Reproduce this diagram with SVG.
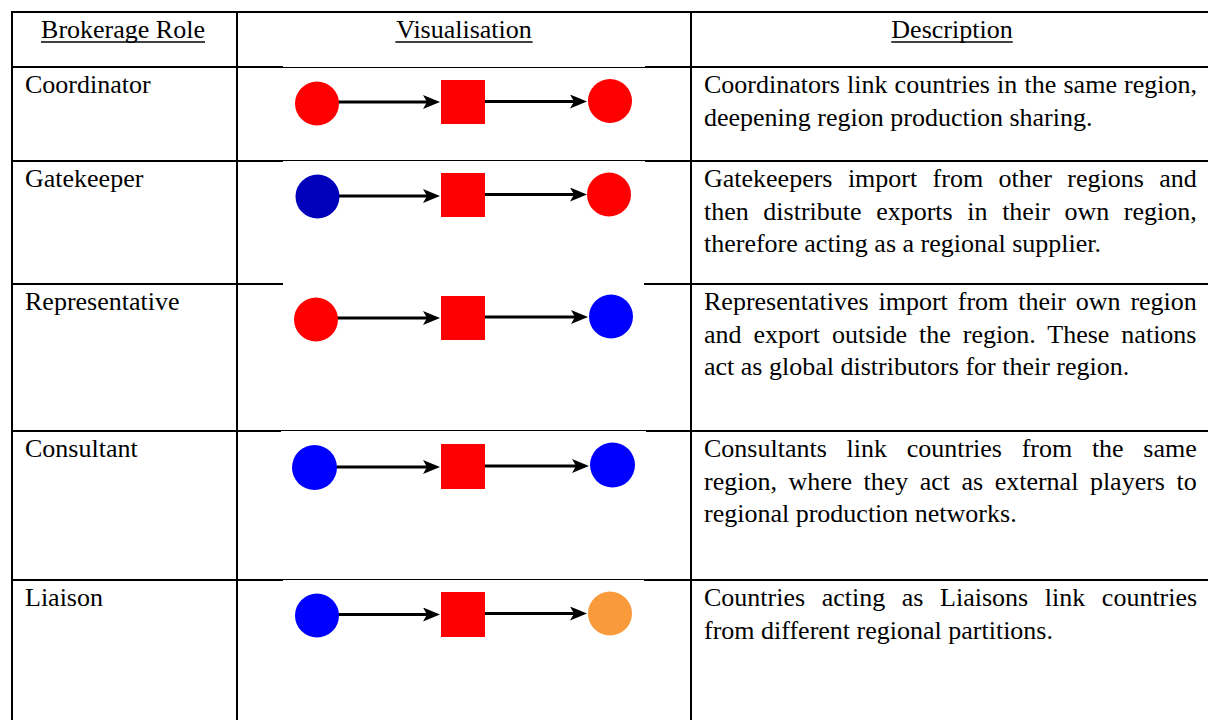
<svg xmlns="http://www.w3.org/2000/svg" width="1208" height="720" viewBox="0 0 1208 720">
<style>
.t{font-family:"Liberation Serif","Times New Roman",serif;font-size:26px;fill:#000}
.h{text-anchor:middle}
.b{stroke:#000;stroke-width:2;fill:none}
.thin{stroke:#000;stroke-width:1;fill:none}
.ul{stroke:#000;stroke-width:1.3}
.red{fill:#ff0000}
.blue{fill:#0000ff}
.dblue{fill:#0000bb}
.orange{fill:#f99b3b}
.arr{stroke:#000;stroke-width:3;fill:none;marker-end:url(#ah)}
</style>
<defs>
<marker id="ah" markerUnits="userSpaceOnUse" markerWidth="18" markerHeight="16" refX="7" refY="7" orient="auto">
<path d="M0,0 L17,7 L0,14 L4,7 Z" fill="#000"/>
</marker>
</defs>
<rect width="1208" height="720" fill="#fff"/>
<g id="table">
<line class="b" x1="12" y1="12" x2="1208" y2="12"/>
<line class="b" x1="12" y1="11" x2="12" y2="720"/>
<line class="b" x1="237" y1="11" x2="237" y2="720"/>
<line class="b" x1="691" y1="11" x2="691" y2="720"/>
<line class="b" x1="11" y1="67" x2="283" y2="67"/><line class="thin" x1="283" y1="67.5" x2="645" y2="67.5"/><line class="b" x1="645" y1="67" x2="1208" y2="67"/>
<line class="b" x1="11" y1="161" x2="283" y2="161"/><line class="thin" x1="283" y1="160.5" x2="645" y2="160.5"/><line class="b" x1="645" y1="161" x2="1208" y2="161"/>
<line class="b" x1="11" y1="284" x2="283" y2="284"/><line class="b" x1="644" y1="284" x2="1208" y2="284"/>
<line class="b" x1="11" y1="431" x2="281" y2="431"/><line class="thin" x1="281" y1="430.5" x2="646" y2="430.5"/><line class="b" x1="646" y1="431" x2="1208" y2="431"/>
<line class="b" x1="11" y1="580" x2="283" y2="580"/><line class="thin" x1="283" y1="579.5" x2="644" y2="579.5"/><line class="b" x1="644" y1="580" x2="1208" y2="580"/>
</g>
<g id="header">
<text class="t h" x="123" y="38">Brokerage Role</text>
<line class="ul" x1="41" y1="42" x2="205" y2="42"/>
<text class="t h" x="464" y="38">Visualisation</text>
<line class="ul" x1="395.4" y1="42" x2="532.6" y2="42"/>
<text class="t h" x="952" y="38">Description</text>
<line class="ul" x1="891.3" y1="42" x2="1012.7" y2="42"/>
</g>
<g id="roles">
<text class="t" x="25" y="93">Coordinator</text>
<text class="t" x="25" y="187">Gatekeeper</text>
<text class="t" x="25" y="310">Representative</text>
<text class="t" x="25" y="457">Consultant</text>
<text class="t" x="25" y="606">Liaison</text>
</g>
<g id="descriptions">
<text class="t" x="704" y="93" word-spacing="0.7">Coordinators link countries in the same region,</text>
<text class="t" x="704" y="125.5">deepening region production sharing.</text>
<text class="t" x="704" y="187" word-spacing="8.9">Gatekeepers import from other regions and</text>
<text class="t" x="704" y="219.5" word-spacing="8.1">then distribute exports in their own region,</text>
<text class="t" x="704" y="252">therefore acting as a regional supplier.</text>
<text class="t" x="704" y="310" word-spacing="3.4">Representatives import from their own region</text>
<text class="t" x="704" y="342.5" word-spacing="5.5">and export outside the region. These nations</text>
<text class="t" x="704" y="375">act as global distributors for their region.</text>
<text class="t" x="704" y="457" word-spacing="13.2">Consultants link countries from the same</text>
<text class="t" x="704" y="489.5" word-spacing="5">region, where they act as external players to</text>
<text class="t" x="704" y="522">regional production networks.</text>
<text class="t" x="704" y="606" word-spacing="10.1">Countries acting as Liaisons link countries</text>
<text class="t" x="704" y="638.5">from different regional partitions.</text>
</g>
<g id="connectors">
<line class="arr" x1="338" y1="102" x2="430" y2="102"/>
<line class="arr" x1="485" y1="101.5" x2="577" y2="101.5"/>
<line class="arr" x1="338" y1="196" x2="430" y2="196"/>
<line class="arr" x1="485" y1="194.5" x2="577" y2="194.5"/>
<line class="arr" x1="337" y1="318" x2="430" y2="318"/>
<line class="arr" x1="485" y1="317" x2="578" y2="317"/>
<line class="arr" x1="336" y1="467" x2="430" y2="467"/>
<line class="arr" x1="485" y1="466" x2="579" y2="466"/>
<line class="arr" x1="338" y1="614.5" x2="430" y2="614.5"/>
<line class="arr" x1="485" y1="613.5" x2="577" y2="613.5"/>
</g>
<g id="coordinator-source"><circle class="red" cx="317" cy="103.5" r="22"/></g>
<g id="coordinator-broker"><rect class="red" x="441" y="80" width="44" height="44"/></g>
<g id="coordinator-target"><circle class="red" cx="610" cy="101" r="22"/></g>
<g id="gatekeeper-source"><circle class="dblue" cx="317.5" cy="196.5" r="22"/></g>
<g id="gatekeeper-broker"><rect class="red" x="441" y="173" width="44" height="44"/></g>
<g id="gatekeeper-target"><circle class="red" cx="609" cy="194.5" r="22"/></g>
<g id="representative-source"><circle class="red" cx="316" cy="319.5" r="22"/></g>
<g id="representative-broker"><rect class="red" x="441" y="296" width="44" height="44"/></g>
<g id="representative-target"><circle class="blue" cx="611" cy="316.5" r="22"/></g>
<g id="consultant-source"><circle class="blue" cx="314.5" cy="467.5" r="22.5"/></g>
<g id="consultant-broker"><rect class="red" x="441" y="444" width="44" height="45"/></g>
<g id="consultant-target"><circle class="blue" cx="612.5" cy="465" r="22.5"/></g>
<g id="liaison-source"><circle class="blue" cx="317" cy="615.5" r="22"/></g>
<g id="liaison-broker"><rect class="red" x="441" y="592" width="44" height="45"/></g>
<g id="liaison-target"><circle class="orange" cx="610" cy="613.5" r="22"/></g>
</svg>
